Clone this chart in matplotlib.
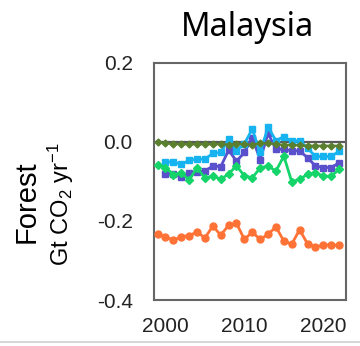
import matplotlib
matplotlib.use("Agg")
import matplotlib.pyplot as plt
from matplotlib.lines import Line2D

plt.rcParams['font.family'] = ['Liberation Sans', 'DejaVu Sans']
plt.rcParams['mathtext.fontset'] = 'custom'
plt.rcParams['mathtext.rm'] = 'Liberation Sans'
plt.rcParams['mathtext.it'] = 'Liberation Sans:italic'

years_long = list(range(1999, 2023))
years_short = list(range(2000, 2023))

orange = [-0.234, -0.240, -0.249, -0.240, -0.237, -0.228, -0.243, -0.213, -0.236, -0.211,
          -0.206, -0.247, -0.228, -0.247, -0.234, -0.215, -0.251, -0.259, -0.222, -0.258,
          -0.266, -0.261, -0.261, -0.262]
bright_green = [-0.059, -0.065, -0.083, -0.078, -0.097, -0.065, -0.092, -0.086, -0.095, -0.081,
                -0.061, -0.086, -0.091, -0.066, -0.061, -0.074, -0.036, -0.101, -0.095, -0.082,
                -0.078, -0.087, -0.087, -0.070]
dark_green = [-0.001, -0.004, -0.005, -0.006, -0.006, -0.006, -0.006, -0.006, -0.006, -0.007,
              -0.005, -0.006, -0.007, -0.004, -0.003, -0.006, -0.008, -0.008, -0.009, -0.010,
              -0.010, -0.010, -0.010, -0.010]
light_blue = [-0.051, -0.051, -0.057, -0.047, -0.043, -0.044, -0.029, -0.027, 0.006, -0.022,
              -0.005, 0.032, -0.027, 0.037, 0.003, 0.013, 0.001, 0.003, -0.016, -0.037,
              -0.037, -0.037, -0.024]
purple = [-0.081, -0.082, -0.088, -0.080, -0.076, -0.074, -0.061, -0.063, -0.021, -0.049,
          -0.027, 0.010, -0.045, 0.021, -0.019, -0.019, -0.023, -0.023, -0.040, -0.061,
          -0.065, -0.065, -0.053]

y_ticks = [0.2, 0.0, -0.2, -0.4]
y_tick_labels = ['0.2', '0.0', '-0.2', '-0.4']
x_ticks = [2000, 2010, 2020]

W, H = 360, 346
fig = plt.figure(figsize=(W / 100, H / 100), dpi=100)
ax = fig.add_axes([153.5 / W, 1 - 300 / H, (346 - 153.5) / W, (300 - 62.7) / H])

ax.plot(years_long, orange, color='#FF7236', lw=2.0, marker='o', ms=5, zorder=3)
ax.axhline(0, color='#5a5a5a', lw=1.6, zorder=2)
ax.plot(years_short, purple, color='#5A50CC', lw=2.0, marker='s', ms=4.8, zorder=4)
ax.plot(years_short, light_blue, color='#17B3F0', lw=2.0, marker='s', ms=4.8, zorder=5)
ax.plot(years_long, bright_green, color='#14D46A', lw=2.0, marker='D', ms=4.5, zorder=6)
ax.plot(years_long, dark_green, color='#5A7F2E', lw=1.6, marker='D', ms=3.5, zorder=7)

ax.set_xlim(1998.48, 2022.88)
ax.set_ylim(-0.4, 0.2)
ax.set_yticks(y_ticks)
ax.set_yticklabels(y_tick_labels)
ax.set_xticks(x_ticks)
ax.tick_params(length=0, labelsize=15, colors='#222222')
ax.tick_params(axis='y', pad=15)
ax.tick_params(axis='x', pad=12)
for s in ax.spines.values():
    s.set_color('#666666')
    s.set_linewidth(1.5)

fig.text(247.5 / W, 1 - 27 / H, 'Malaysia', ha='center', va='center',
         fontsize=23.5, family=['Noto Sans', 'DejaVu Sans'])
fig.text(27 / W, 1 - 202 / H, 'Forest', rotation=90, ha='center', va='center', fontsize=21)
fig.text(61 / W, 1 - 204 / H, 'Gt CO$_2$ yr$^{-1}$', rotation=90, ha='center', va='center',
         fontsize=17)

fig.add_artist(Line2D([0, 1], [1 - 342 / H, 1 - 342 / H], color='#d0d0d0', lw=1.2,
                      transform=fig.transFigure))

fig.savefig('out.png', dpi=100)
